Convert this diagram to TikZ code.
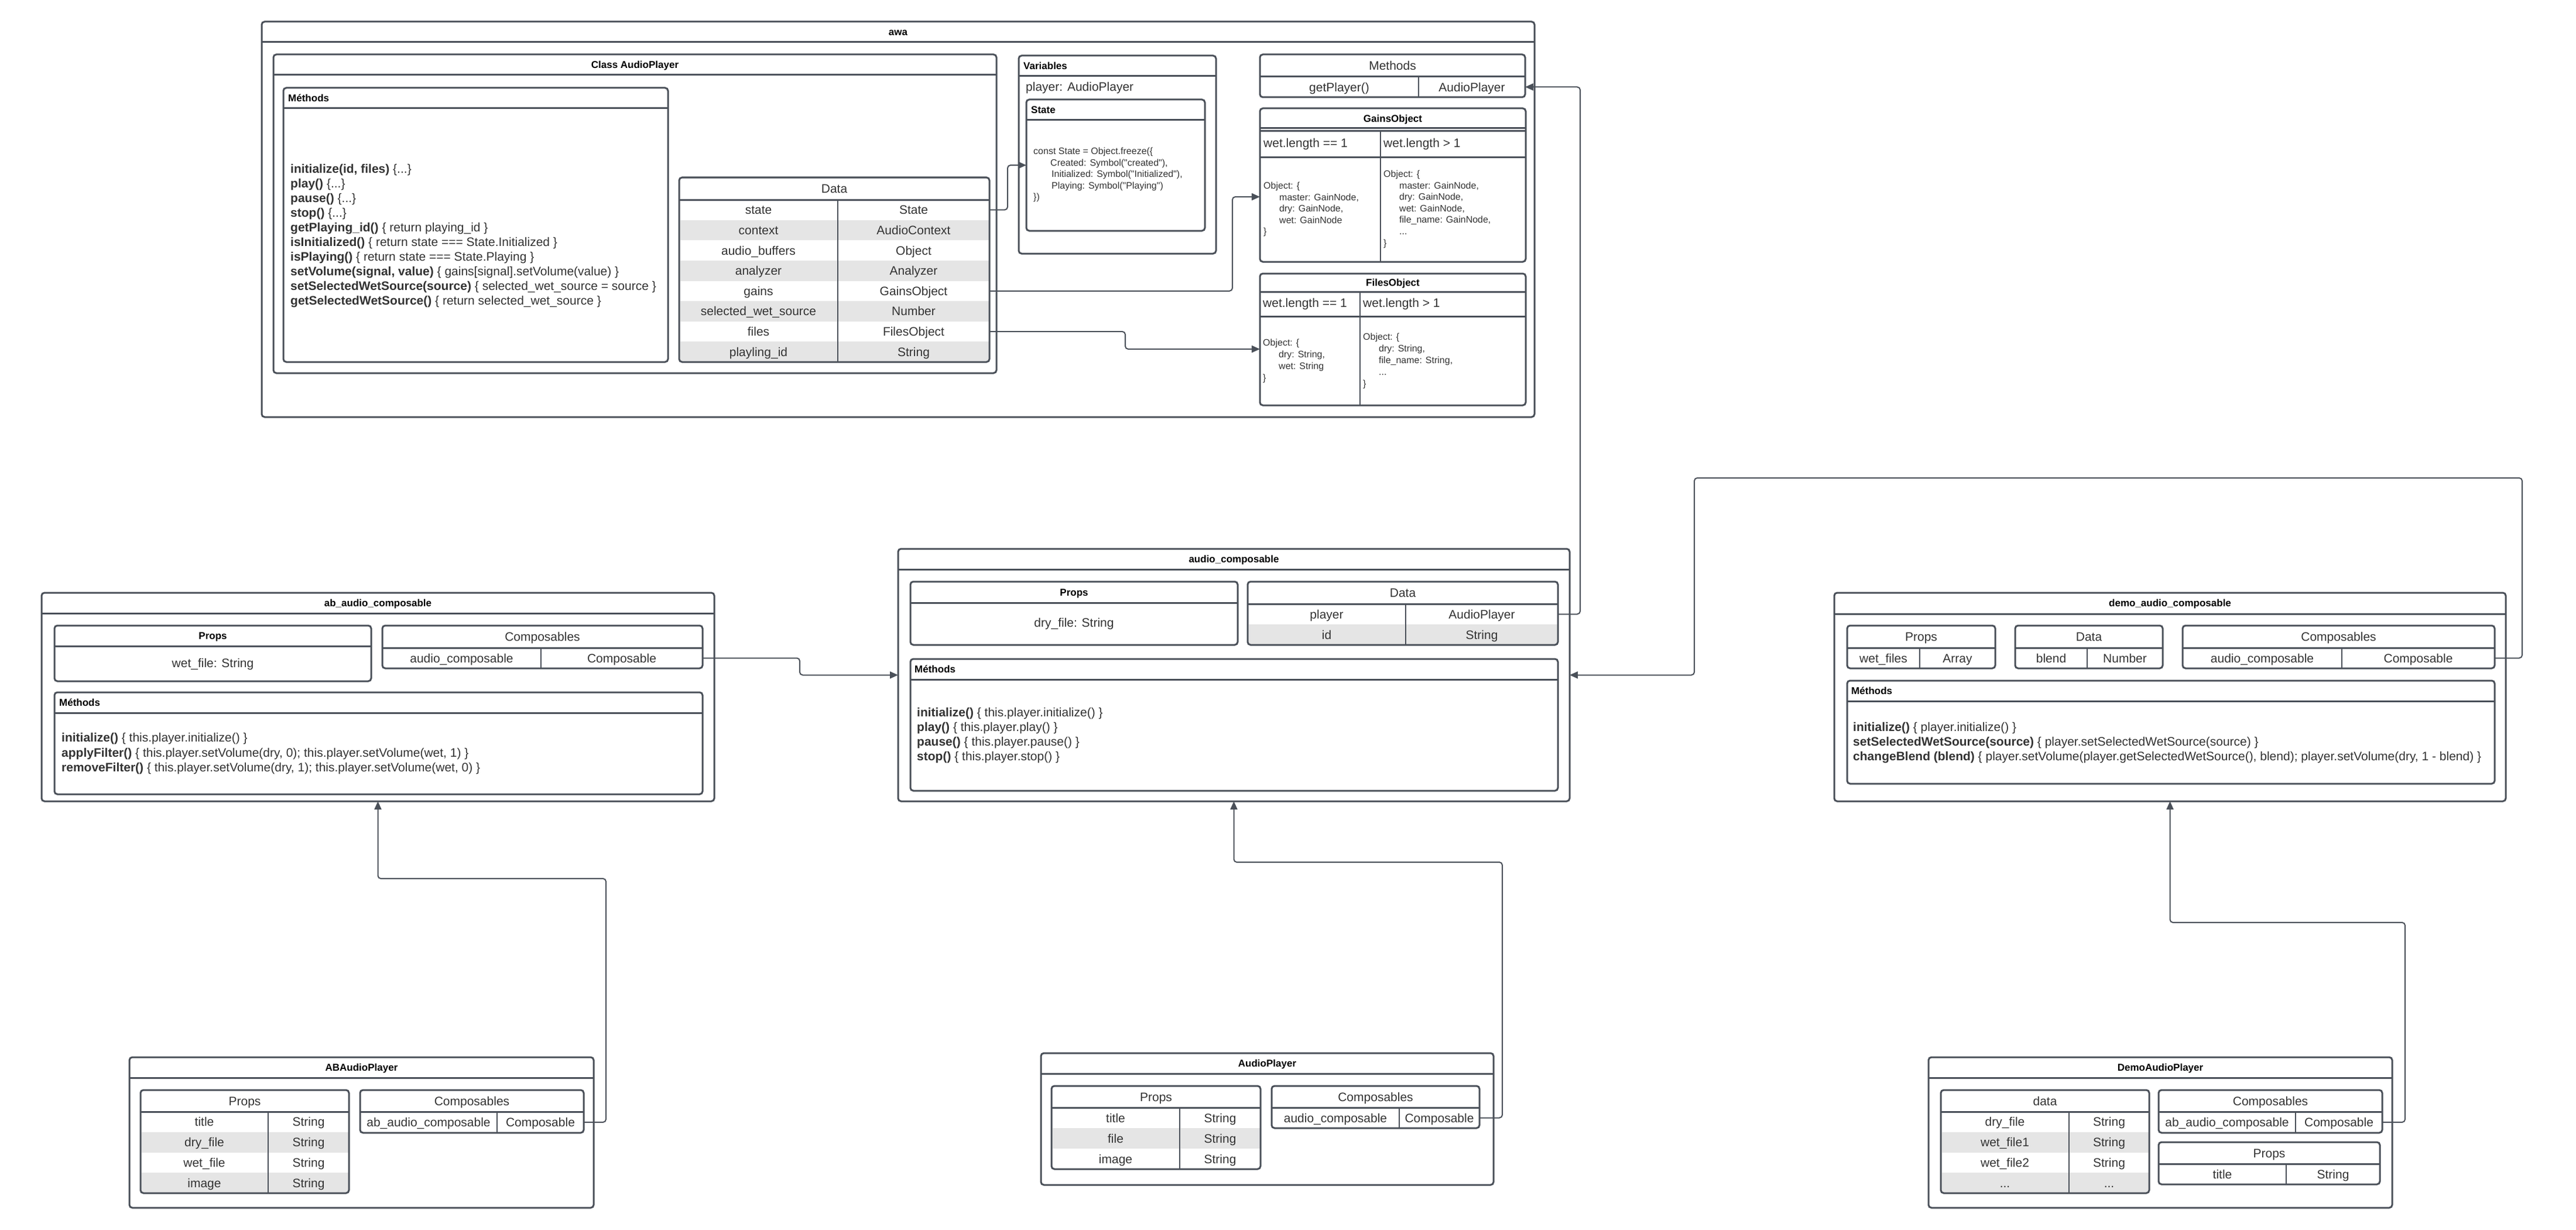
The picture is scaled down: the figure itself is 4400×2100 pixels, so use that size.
\documentclass[tikz,border=0pt]{standalone}
\usepackage{fontspec}
\newfontfamily\lib{Liberation Sans}
\usetikzlibrary{arrows.meta}
\definecolor{lc}{RGB}{74,80,89}
\definecolor{tc}{RGB}{51,51,51}
\definecolor{rowg}{RGB}{229,229,229}
\newcommand\ubox[6][]{\node[ubx,minimum width={#5pt-#3pt},minimum height={#6pt-#4pt},#1] (#2) at (#3,#4) {};}
\newcommand\hln[3]{\draw[hl] (#1,#3) -- (#2,#3);}
\newcommand\vln[3]{\draw[dv] (#1,#2) -- (#1,#3);}
\newcommand\rowfill[4]{\fill[rowg] (#1,#2) rectangle (#3,#4);}
\newcommand\cdl[4]{\node[cod] (#1) at (#2,#3) {#4};}
\newcommand\dts{...}
\begin{document}
\begin{tikzpicture}[x=1pt,y=-1pt,
  ubx/.style={draw=lc,line width=3pt,rounded corners=5pt,anchor=north west,inner sep=0pt,outer sep=0pt},
  hl/.style={draw=lc,line width=3pt},
  dv/.style={draw=lc,line width=2.5pt},
  conn/.style={draw=lc,line width=2pt,rounded corners=5pt,-{Triangle[length=14pt,width=12pt]}},
  ttl/.style={font={\lib\fontsize{17}{20}\selectfont\bfseries},text=black,inner sep=0pt,text height=12.2pt,text depth=0pt},
  cel/.style={font={\lib\fontsize{21}{25}\selectfont},text=tc,inner sep=0pt,text height=15.1pt,text depth=0pt},
  cod/.style={font={\lib\fontsize{16}{19.5}\selectfont},text=tc,inner sep=0pt,text height=11.5pt,text depth=0pt,anchor=west}]
\useasboundingbox (0,0) rectangle (4400,2100);
\fill[white] (0,0) rectangle (4400,2100);

% ================= awa =================
\ubox{awa}{447}{37}{2621}{712}
\hln{447}{2621}{72}
\node[ttl] (awaT) at (1534,54.5) {awa};

% Class AudioPlayer
\ubox{cap}{467}{93}{1702}{637}
\hln{467}{1702}{128}
\node[ttl] (capT) at (1084.5,110.5) {Class AudioPlayer};

\ubox{cmeth}{484}{150}{1141}{618}
\hln{484}{1141}{185}
\node[ttl,anchor=west] (cmethT) at (492,167.5) {Méthods};
\foreach \t [count=\i from 0] in {
  {\textbf{initialize(id, files)} \{\dts\}},
  {\textbf{play()} \{\dts\}},
  {\textbf{pause()} \{\dts\}},
  {\textbf{stop()} \{\dts\}},
  {\textbf{getPlaying\_id()} \{ return playing\_id \}},
  {\textbf{isInitialized()} \{ return state === State.Initialized \}},
  {\textbf{isPlaying()} \{ return state === State.Playing \}},
  {\textbf{setVolume(signal, value)} \{ gains[signal].setVolume(value) \}},
  {\textbf{setSelectedWetSource(source)} \{ selected\_wet\_source = source \}},
  {\textbf{getSelectedWetSource()} \{ return selected\_wet\_source \}}}
  \node[cel,anchor=west] (cm\i) at (496,{288+25*\i}) {\t};

% Data table of the class
\rowfill{1161.5}{375.625}{1688.5}{410.25}
\rowfill{1161.5}{444.875}{1688.5}{479.5}
\rowfill{1161.5}{514.125}{1688.5}{548.75}
\rowfill{1161.5}{583.375}{1688.5}{616.5}
\ubox{cdata}{1160}{303}{1690}{618}
\hln{1160}{1690}{341}
\vln{1431}{341}{618}
\node[cel] (cdataT) at (1425,322) {Data};
\foreach \a/\b [count=\i] in {state/State,context/AudioContext,audio\_buffers/Object,analyzer/Analyzer,gains/GainsObject,selected\_wet\_source/Number,files/FilesObject,playling\_id/String}{
  \node[cel] (cdl\i) at (1295.5,{341+34.625*(\i-0.5)}) {\a};
  \node[cel] (cdr\i) at (1560.5,{341+34.625*(\i-0.5)}) {\b};
}

% Variables
\ubox{vars}{1740}{95}{2077}{433}
\hln{1740}{2077}{130}
\node[ttl,anchor=west] (varsT) at (1748,112.5) {Variables};
\node[cel,anchor=west] (varsP) at (1752,148) {player: AudioPlayer};
\ubox{stbox}{1753}{170}{2058}{394}
\hln{1753}{2058}{205}
\node[ttl,anchor=west] (stT) at (1761,187.5) {State};
\cdl{st1}{1765}{258}{const State = Object.freeze(\{}
\cdl{st2}{1794}{277.5}{Created: Symbol("created"),}
\cdl{st3}{1796}{297}{Initialized: Symbol("Initialized"),}
\cdl{st4}{1796}{316.5}{Playing: Symbol("Playing")}
\cdl{st5}{1765}{336}{\})}

% Methods (top right)
\ubox{mth}{2152}{93}{2605}{166}
\hln{2152}{2605}{131}
\vln{2423}{131}{166}
\node[cel] (mthT) at (2378.5,112) {Methods};
\node[cel] (mgp) at (2287.5,148.5) {getPlayer()};
\node[cel] (mgpr) at (2514,148.5) {AudioPlayer};

% GainsObject
\ubox{gobj}{2152}{185}{2606}{447}
\hln{2152}{2606}{219}
\hln{2152}{2606}{224}
\hln{2152}{2606}{269}
\vln{2358}{224}{447}
\node[ttl] (gobjT) at (2379,202) {GainsObject};
\node[cel,anchor=west] (g1h) at (2158,244) {wet.length == 1};
\node[cel,anchor=west] (g2h) at (2363,244) {wet.length > 1};
\cdl{gl1}{2158}{317}{Object: \{}
\cdl{gl2}{2185}{336.5}{master: GainNode,}
\cdl{gl3}{2185}{356}{dry: GainNode,}
\cdl{gl4}{2185}{375.5}{wet: GainNode}
\cdl{gl5}{2158}{395}{\}}
\cdl{gr1}{2363}{296.5}{Object: \{}
\cdl{gr2}{2390}{316.5}{master: GainNode,}
\cdl{gr3}{2390}{336}{dry: GainNode,}
\cdl{gr4}{2390}{355.5}{wet: GainNode,}
\cdl{gr5}{2390}{375}{file\_name: GainNode,}
\cdl{gr6}{2390}{395}{\dts}
\cdl{gr7}{2363}{415}{\}}

% FilesObject
\ubox{fobj}{2152}{467}{2606}{692}
\hln{2152}{2606}{498}
\hln{2152}{2606}{540}
\vln{2323}{498}{692}
\node[ttl] (fobjT) at (2379,482.5) {FilesObject};
\node[cel,anchor=west] (f1h) at (2157,517) {wet.length == 1};
\node[cel,anchor=west] (f2h) at (2328,517) {wet.length > 1};
\cdl{fl1}{2157}{585}{Object: \{}
\cdl{fl2}{2184}{605}{dry: String,}
\cdl{fl3}{2184}{625}{wet: String}
\cdl{fl4}{2157}{645}{\}}
\cdl{fr1}{2328}{575}{Object: \{}
\cdl{fr2}{2355}{595}{dry: String,}
\cdl{fr3}{2355}{615}{file\_name: String,}
\cdl{fr4}{2355}{635}{\dts}
\cdl{fr5}{2328}{655}{\}}

% ================= ab_audio_composable =================
\ubox{ab}{71}{1012}{1220}{1368}
\hln{71}{1220}{1047}
\node[ttl] (abT) at (645.5,1029.5) {ab\_audio\_composable};
\ubox{abprops}{93}{1068}{634}{1163}
\hln{93}{634}{1103}
\node[ttl] (abpropsT) at (363.5,1085.5) {Props};
\node[cel] (abprops1) at (363.5,1132) {wet\_file: String};
\ubox{abcomp}{653}{1068}{1200}{1141}
\hln{653}{1200}{1106}
\vln{924}{1106}{1141}
\node[cel] (abcompT) at (926.5,1087) {Composables};
\node[cel] (abc1l) at (788.5,1123.5) {audio\_composable};
\node[cel] (abc1r) at (1062,1123.5) {Composable};
\ubox{abmeth}{93}{1182}{1200}{1356}
\hln{93}{1200}{1217}
\node[ttl,anchor=west] (abmethT) at (101,1199.5) {Méthods};
\node[cel,anchor=west] (abm1) at (105,1259) {\textbf{initialize()} \{ this.player.initialize() \}};
\node[cel,anchor=west] (abm2) at (105,1284.5) {\textbf{applyFilter()} \{ this.player.setVolume(dry, 0); this.player.setVolume(wet, 1) \}};
\node[cel,anchor=west] (abm3) at (105,1310) {\textbf{removeFilter()} \{ this.player.setVolume(dry, 1); this.player.setVolume(wet, 0) \}};

% ================= audio_composable =================
\ubox{ac}{1534}{937}{2681}{1368}
\hln{1534}{2681}{972}
\node[ttl] (acT) at (2107.5,954.5) {audio\_composable};
\ubox{acprops}{1555}{993}{2114}{1101}
\hln{1555}{2114}{1029}
\node[ttl] (acpropsT) at (1834.5,1011) {Props};
\node[cel] (acprops1) at (1834.5,1063) {dry\_file: String};
\rowfill{2132.5}{1066}{2659.5}{1099.5}
\ubox{acdata}{2131}{993}{2661}{1101}
\hln{2131}{2661}{1031}
\vln{2401}{1031}{1101}
\node[cel] (acdataT) at (2396,1012) {Data};
\node[cel] (acd1l) at (2266,1048.5) {player};
\node[cel] (acd1r) at (2531,1048.5) {AudioPlayer};
\node[cel] (acd2l) at (2266,1083.5) {id};
\node[cel] (acd2r) at (2531,1083.5) {String};
\ubox{acmeth}{1555}{1125}{2661}{1350}
\hln{1555}{2661}{1160}
\node[ttl,anchor=west] (acmethT) at (1562,1142.5) {Méthods};
\node[cel,anchor=west] (acm1) at (1566,1216) {\textbf{initialize()} \{ this.player.initialize() \}};
\node[cel,anchor=west] (acm2) at (1566,1241) {\textbf{play()} \{ this.player.play() \}};
\node[cel,anchor=west] (acm3) at (1566,1266) {\textbf{pause()} \{ this.player.pause() \}};
\node[cel,anchor=west] (acm4) at (1566,1291) {\textbf{stop()} \{ this.player.stop() \}};

% ================= demo_audio_composable =================
\ubox{dm}{3133}{1012}{4280}{1368}
\hln{3133}{4280}{1048}
\node[ttl] (dmT) at (3706.5,1029.5) {demo\_audio\_composable};
\ubox{dmprops}{3155}{1068}{3408}{1141}
\hln{3155}{3408}{1106}
\vln{3279}{1106}{1141}
\node[cel] (dmpropsT) at (3281.5,1087) {Props};
\node[cel] (dmp1l) at (3217,1123.5) {wet\_files};
\node[cel] (dmp1r) at (3343.5,1123.5) {Array};
\ubox{dmdata}{3442}{1068}{3694}{1141}
\hln{3442}{3694}{1106}
\vln{3565}{1106}{1141}
\node[cel] (dmdataT) at (3568,1087) {Data};
\node[cel] (dmd1l) at (3503.5,1123.5) {blend};
\node[cel] (dmd1r) at (3629.5,1123.5) {Number};
\ubox{dmcomp}{3728}{1068}{4261}{1141}
\hln{3728}{4261}{1106}
\vln{4000}{1106}{1141}
\node[cel] (dmcompT) at (3994.5,1087) {Composables};
\node[cel] (dmc1l) at (3864,1123.5) {audio\_composable};
\node[cel] (dmc1r) at (4130.5,1123.5) {Composable};
\ubox{dmmeth}{3155}{1162}{4261}{1338}
\hln{3155}{4261}{1197}
\node[ttl,anchor=west] (dmmethT) at (3162,1179.5) {Méthods};
\node[cel,anchor=west] (dmm1) at (3165,1241) {\textbf{initialize()} \{ player.initialize() \}};
\node[cel,anchor=west] (dmm2) at (3165,1266) {\textbf{setSelectedWetSource(source)} \{ player.setSelectedWetSource(source) \}};
\node[cel,anchor=west] (dmm3) at (3165,1291) {\textbf{changeBlend (blend)} \{ player.setVolume(player.getSelectedWetSource(), blend); player.setVolume(dry, 1 - blend) \}};

% ================= ABAudioPlayer =================
\ubox{abp}{221}{1805}{1014}{2062}
\hln{221}{1014}{1840}
\node[ttl] (abpT) at (617.5,1822.5) {ABAudioPlayer};
\rowfill{241.5}{1932.75}{594.5}{1967.5}
\rowfill{241.5}{2002.25}{594.5}{2035.5}
\ubox{abpprops}{240}{1861}{596}{2037}
\hln{240}{596}{1898}
\vln{458}{1898}{2037}
\node[cel] (abppropsT) at (418,1879.5) {Props};
\foreach \a/\b [count=\i] in {title/String,dry\_file/String,wet\_file/String,image/String}{
  \node[cel] (abppl\i) at (349,{1898+34.75*(\i-0.5)}) {\a};
  \node[cel] (abppr\i) at (527,{1898+34.75*(\i-0.5)}) {\b};
}
\ubox{abpcomp}{615}{1861}{997}{1934}
\hln{615}{997}{1898}
\vln{849}{1898}{1934}
\node[cel] (abpcompT) at (806,1879.5) {Composables};
\node[cel] (abpc1l) at (732,1916) {ab\_audio\_composable};
\node[cel] (abpc1r) at (923,1916) {Composable};

% ================= AudioPlayer =================
\ubox{ap}{1778}{1798}{2551}{2023}
\hln{1778}{2551}{1833}
\node[ttl] (apT) at (2164.5,1815.5) {AudioPlayer};
\rowfill{1797.5}{1926}{2151.5}{1961}
\ubox{approps}{1796}{1854}{2153}{1996}
\hln{1796}{2153}{1891}
\vln{2015}{1891}{1996}
\node[cel] (appropsT) at (1974.5,1872.5) {Props};
\foreach \a/\b [count=\i] in {title/String,file/String,image/String}{
  \node[cel] (appl\i) at (1905.5,{1891+35*(\i-0.5)}) {\a};
  \node[cel] (appr\i) at (2084,{1891+35*(\i-0.5)}) {\b};
}
\ubox{apcomp}{2172}{1854}{2527}{1926}
\hln{2172}{2527}{1891}
\vln{2390}{1891}{1926}
\node[cel] (apcompT) at (2349.5,1872.5) {Composables};
\node[cel] (apc1l) at (2281,1908.5) {audio\_composable};
\node[cel] (apc1r) at (2458.5,1908.5) {Composable};

% ================= DemoAudioPlayer =================
\ubox{dp}{3294}{1805}{4086}{2062}
\hln{3294}{4086}{1840}
\node[ttl] (dpT) at (3690,1822.5) {DemoAudioPlayer};
\rowfill{3316.5}{1932.75}{3669.5}{1967.5}
\rowfill{3316.5}{2002.25}{3669.5}{2035.5}
\ubox{dpdata}{3315}{1861}{3671}{2037}
\hln{3315}{3671}{1898}
\vln{3534}{1898}{2037}
\node[cel] (dpdataT) at (3493,1879.5) {data};
\foreach \a/\b [count=\i] in {dry\_file/String,wet\_file1/String,wet\_file2/String,\dts/\dts}{
  \node[cel] (dpdl\i) at (3424.5,{1898+34.75*(\i-0.5)}) {\a};
  \node[cel] (dpdr\i) at (3602.5,{1898+34.75*(\i-0.5)}) {\b};
}
\ubox{dpcomp}{3687}{1861}{4069}{1934}
\hln{3687}{4069}{1898}
\vln{3921}{1898}{1934}
\node[cel] (dpcompT) at (3878,1879.5) {Composables};
\node[cel] (dpc1l) at (3804,1916) {ab\_audio\_composable};
\node[cel] (dpc1r) at (3995,1916) {Composable};
\ubox{dpprops}{3687}{1950}{4065}{2022}
\hln{3687}{4065}{1987}
\vln{3905}{1987}{2022}
\node[cel] (dppropsT) at (3876,1968.5) {Props};
\node[cel] (dpp1l) at (3796,2004.5) {title};
\node[cel] (dpp1r) at (3985,2004.5) {String};

% ================= connectors =================
\draw[conn] (cdata.east |- cdr1) -- ++(31,0) |- (stbox.west);
\draw[conn] (cdata.east |- cdr5) -- ++(415,0) |- ([yshift=-20pt]gobj.west);
\draw[conn] (cdata.east |- cdr7) -- ++(232,0) |- ([yshift=-16.5pt]fobj.west);
\draw[conn] (acdata.east |- acd1r) -- ++(38,0) |- (mth.east |- mgpr);
\draw[conn] (abcomp.east |- abc1r) -- ++(166,0) |- (ac.west);
\coordinate (demoturn) at (2894,816);
\draw[conn] (dmcomp.east |- dmc1r) -- ++(47,0) |- (demoturn) |- (ac.east);
\coordinate (abturn) at (645.5,1500);
\draw[conn] (abpcomp.east |- abpc1r) -- ++(38,0) |- (abturn) -- (ab.south);
\coordinate (acturn) at (2107.5,1472);
\draw[conn] (apcomp.east |- apc1r) -- ++(39,0) |- (acturn) -- (ac.south);
\coordinate (dmturn) at (3706.5,1575);
\draw[conn] (dpcomp.east |- dpc1r) -- ++(39,0) |- (dmturn) -- (dm.south);
\end{tikzpicture}
\end{document}
